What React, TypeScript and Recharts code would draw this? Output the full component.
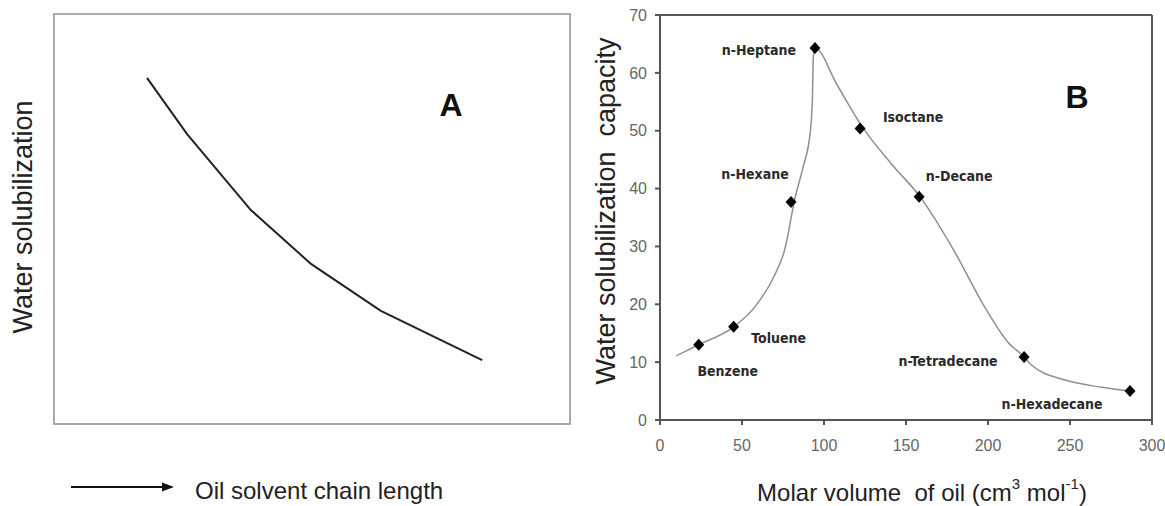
import React from "react";
import { ComposedChart, LineChart, Line, Scatter, XAxis, YAxis, ReferenceLine } from "recharts";

// panel A - schematic trend, arbitrary units
const chainLength = [17.9, 25.7, 38.1, 49.8, 63.4, 83.1];
const solubilization = [84.6, 70.8, 52.2, 39.0, 27.5, 15.4];

// panel B - measured points
const oils = ["Benzene", "Toluene", "n-Hexane", "n-Heptane", "Isoctane", "n-Decane", "n-Tetradecane", "n-Hexadecane"];
const molarVolume = [23.6, 44.9, 79.9, 94.5, 122, 158, 222, 286.6];
const capacity = [13.0, 16.1, 37.7, 64.3, 50.4, 38.6, 10.9, 5.0];

// panel B - hand drawn trend line
const trendX = [10, 23.6, 44.9, 58, 69.5, 76, 82.3, 87.3, 91.5, 92.9, 93.5, 94.5, 108, 124, 141, 158.5, 179, 198, 212, 222, 226.5, 247, 269.5, 286.6];
const trendY = [11.1, 13.0, 16.1, 19.6, 24.8, 29.4, 38.3, 43.8, 49.5, 55.3, 62.8, 64.3, 57.9, 50.4, 44.3, 38.6, 29.4, 19.5, 13.5, 10.9, 9.5, 6.9, 5.65, 5.0];

const xTicks = [0, 50, 100, 150, 200, 250, 300];
const yTicks = [0, 10, 20, 30, 40, 50, 60, 70];

// where each name sits relative to its marker (px)
const labelOffset: Record<string, [number, number]> = {
    "Benzene": [29, 26],
    "Toluene": [45, 11],
    "n-Hexane": [-36, -28],
    "n-Heptane": [-56, 2],
    "Isoctane": [53, -11],
    "n-Decane": [40, -21],
    "n-Tetradecane": [-76, 4],
    "n-Hexadecane": [-78, 13],
};

const curveA = chainLength.map((x, i) => ({ x, y: solubilization[i] }));
const points = oils.map((name, i) => ({ name, x: molarVolume[i], y: capacity[i] }));
const trend = trendX.map((x, i) => ({ x, y: trendY[i] }));

const axisColor = "#555";

const Marker = (props: any) => {
    const { cx, cy, payload } = props;
    const [dx, dy] = labelOffset[payload.name] || [0, 0];
    return (
        <g>
            <path d={`M${cx},${cy - 6}L${cx + 5.5},${cy}L${cx},${cy + 6}L${cx - 5.5},${cy}Z`} fill="#000" />
            <text x={cx + dx} y={cy + dy} textAnchor="middle" dominantBaseline="central"
                fontFamily="'DejaVu Sans Condensed', 'Liberation Sans Narrow', sans-serif"
                fontWeight="bold" fontSize={14} fill="#2a2a2a">
                {payload.name}
            </text>
        </g>
    );
};

export default function App() {
    return (
        <div style={{ position: "absolute", left: 0, top: 0, width: 1165, height: 506, background: "#fff", fontFamily: "'Liberation Sans', Arial, sans-serif" }}>
            {/* panel A */}
            <div style={{ position: "absolute", left: 53, top: 13, width: 514, height: 408, border: "2px solid #aaa" }}>
                <LineChart width={514} height={408} data={curveA} margin={{ top: 0, right: 0, bottom: 0, left: 0 }}>
                    <XAxis type="number" dataKey="x" domain={[0, 100]} hide />
                    <YAxis type="number" domain={[0, 100]} hide />
                    <Line type="linear" dataKey="y" stroke="#222" strokeWidth={2} dot={false} isAnimationActive={false} />
                </LineChart>
            </div>

            {/* panel B */}
            <div style={{ position: "absolute", left: 580, top: 0 }}>
                <ComposedChart width={585} height={506} margin={{ top: 15, right: 13, bottom: 56, left: 40 }}>
                    <XAxis type="number" dataKey="x" domain={[0, 300]} ticks={xTicks} height={30}
                        axisLine={{ stroke: axisColor, strokeWidth: 2 }} tickLine={{ stroke: axisColor, strokeWidth: 2 }}
                        tickSize={5} tickMargin={15} tick={{ fill: "#666", fontSize: 16 }} />
                    <YAxis type="number" dataKey="y" domain={[0, 70]} ticks={yTicks} width={40}
                        axisLine={{ stroke: axisColor, strokeWidth: 2 }} tickLine={{ stroke: axisColor, strokeWidth: 2 }}
                        tickSize={5} tickMargin={8} tick={{ fill: "#666", fontSize: 16 }} />
                    <ReferenceLine y={70} stroke={axisColor} strokeWidth={2} />
                    <ReferenceLine x={300} stroke={axisColor} strokeWidth={2} />
                    <Line data={trend} type="monotone" dataKey="y" stroke="#8f8f8f" strokeWidth={1.5} dot={false} isAnimationActive={false} />
                    <Scatter data={points} shape={Marker} isAnimationActive={false} />
                </ComposedChart>
            </div>

            {/* titles and axis texts */}
            <svg width={1165} height={506} style={{ position: "absolute", left: 0, top: 0, pointerEvents: "none" }}>
                <text x={23} y={217} transform="rotate(-90 23 217)" textAnchor="middle" dominantBaseline="central" fontSize={27} fill="#222">
                    Water solubilization
                </text>
                <text x={451} y={105} textAnchor="middle" dominantBaseline="central" fontSize={32} fontWeight="bold" fill="#111">A</text>
                <line x1={71} y1={487} x2={164} y2={487} stroke="#111" strokeWidth={2} />
                <polygon points="174,487 162,482.5 162,491.5" fill="#111" />
                <text x={195} y={490} dominantBaseline="central" fontSize={24} fill="#222">Oil solvent chain length</text>

                <text x={606} y={211} transform="rotate(-90 606 211)" textAnchor="middle" dominantBaseline="central" fontSize={27} fill="#222" style={{ whiteSpace: "pre" }}>
                    Water solubilization  capacity
                </text>
                <text x={1077} y={97} textAnchor="middle" dominantBaseline="central" fontSize={32} fontWeight="bold" fill="#111">B</text>
                <text x={922} y={492} textAnchor="middle" dominantBaseline="central" fontSize={24} fill="#222" style={{ whiteSpace: "pre" }}>
                    <tspan>Molar volume  of oil (cm</tspan>
                    <tspan dy={-9} fontSize={15}>3</tspan>
                    <tspan dy={9}> mol</tspan>
                    <tspan dy={-9} fontSize={15}>-1</tspan>
                    <tspan dy={9}>)</tspan>
                </text>
            </svg>
        </div>
    );
}
